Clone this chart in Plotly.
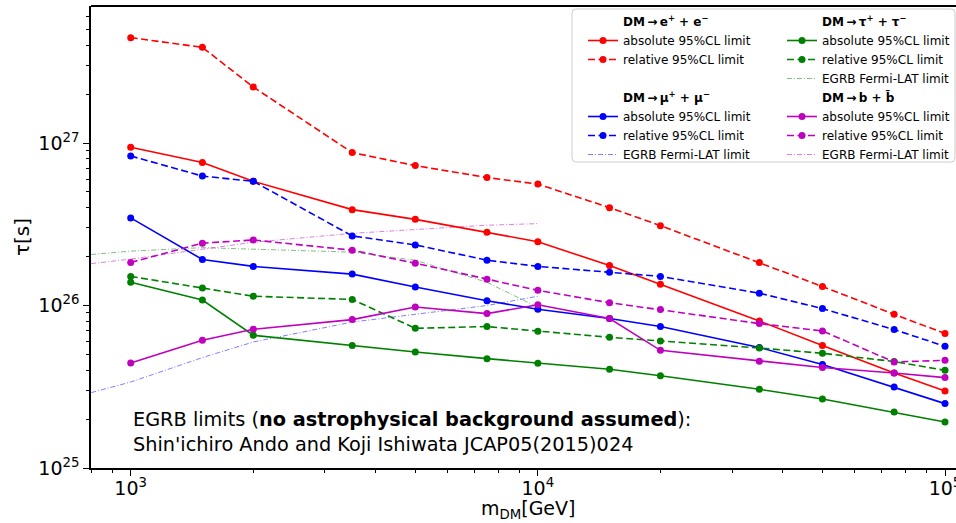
import plotly.graph_objects as go

# Dark-matter mass grid (GeV)
m_dm = [1000, 1500, 2000, 3500, 5000, 7500, 10000, 15000, 20000, 35000, 50000, 75000, 100000]

# Lifetime limits tau [s] per decay channel
ee_abs = [9.41e26, 7.58e26, 5.81e26, 3.89e26, 3.39e26, 2.82e26, 2.47e26, 1.76e26, 1.35e26, 8.03e25, 5.67e25, 3.84e25, 2.98e25]
ee_rel = [4.45e27, 3.88e27, 2.21e27, 8.73e26, 7.26e26, 6.13e26, 5.59e26, 4.00e26, 3.10e26, 1.84e26, 1.31e26, 8.83e25, 6.72e25]
mumu_abs = [3.46e26, 1.92e26, 1.74e26, 1.56e26, 1.30e26, 1.07e26, 9.48e25, 8.31e25, 7.42e25, 5.51e25, 4.33e25, 3.15e25, 2.49e25]
mumu_rel = [8.32e26, 6.26e26, 5.81e26, 2.68e26, 2.36e26, 1.90e26, 1.74e26, 1.60e26, 1.51e26, 1.19e26, 9.57e25, 7.11e25, 5.61e25]
tautau_abs = [1.39e26, 1.08e26, 6.56e25, 5.67e25, 5.17e25, 4.71e25, 4.41e25, 4.05e25, 3.70e25, 3.05e25, 2.66e25, 2.21e25, 1.92e25]
tautau_rel = [1.51e26, 1.28e26, 1.14e26, 1.09e26, 7.24e25, 7.42e25, 6.94e25, 6.37e25, 6.05e25, 5.48e25, 5.08e25, 4.52e25, 3.99e25]
bb_abs = [4.43e25, 6.11e25, 7.14e25, 8.19e25, 9.79e25, 8.92e25, 1.01e26, 8.31e25, 5.30e25, 4.54e25, 4.15e25, 3.84e25, 3.60e25]
bb_rel = [1.84e26, 2.42e26, 2.53e26, 2.19e26, 1.82e26, 1.45e26, 1.24e26, 1.04e26, 9.44e25, 7.74e25, 6.97e25, 4.49e25, 4.60e25]

# EGRB Fermi-LAT limits (Ando & Ishiwata 2015)
egrb_m = [800, 1000, 1500, 2000, 3500, 5000, 7500, 10000]
egrb_mumu = [2.91e25, 3.38e25, 4.78e25, 5.96e25, 7.91e25, 8.83e25, 1.00e26, 1.14e26]
egrb_tautau = [2.06e26, 2.16e26, 2.27e26, 2.22e26, 2.13e26, 1.90e26, 1.39e26, 9.75e25]
egrb_bb = [1.81e26, 1.93e26, 2.22e26, 2.45e26, 2.78e26, 2.94e26, 3.12e26, 3.19e26]

# Axis ticks
x_major = [1e3, 1e4, 1e5]
x_major_text = ["10<sup>3</sup>", "10<sup>4</sup>", "10<sup>5</sup>"]
x_minor = [k * 10.0 ** e for e in (2, 3, 4, 5) for k in range(2, 10)]
y_major = [1e25, 1e26, 1e27]
y_major_text = ["10<sup>25</sup>", "10<sup>26</sup>", "10<sup>27</sup>"]
y_minor = [k * 10.0 ** e for e in (25, 26, 27) for k in range(2, 10)]

FONT = "DejaVu Sans"
RED, BLUE, GREEN, MAGENTA = "#ff0000", "#0000ff", "#008000", "#bf00bf"
EGRB_BLUE, EGRB_GREEN, EGRB_MAGENTA = "rgba(0,0,255,0.5)", "rgba(0,128,0,0.5)", "rgba(191,0,191,0.5)"
DASH = "7px,3.5px"
DASHDOT = "5px,2px,1px,2px"

fig = go.Figure()


def header(name, legend, rank):
    fig.add_trace(go.Scatter(
        x=[None], y=[None], mode="lines", name=name,
        line=dict(color="rgba(0,0,0,0)", width=0),
        legend=legend, legendrank=rank, hoverinfo="skip"))


def limit(x, y, color, dash, name, legend, rank):
    fig.add_trace(go.Scatter(
        x=x, y=y, mode="lines+markers", name=name,
        line=dict(color=color, width=1.6, dash=dash),
        marker=dict(color=color, size=7, symbol="circle"),
        legend=legend, legendrank=rank))


def egrb(x, y, color, legend, rank):
    fig.add_trace(go.Scatter(
        x=x, y=y, mode="lines", name="EGRB Fermi-LAT limit",
        line=dict(color=color, width=1, dash=DASHDOT),
        legend=legend, legendrank=rank))


ARROW = "\u2009→\u2009"

# thin EGRB curves underneath
egrb(egrb_m, egrb_mumu, EGRB_BLUE, "legend", 8)
egrb(egrb_m, egrb_tautau, EGRB_GREEN, "legend2", 4)
egrb(egrb_m, egrb_bb, EGRB_MAGENTA, "legend2", 8)

# left legend column: e+e-, mu+mu-
header(f"<b>DM{ARROW}e<sup>+</sup> + e<sup>−</sup></b>", "legend", 1)
limit(m_dm, ee_abs, RED, "solid", "absolute 95%CL limit", "legend", 2)
limit(m_dm, ee_rel, RED, DASH, "relative 95%CL limit", "legend", 3)
header("\u00a0", "legend", 4)
header(f"<b>DM{ARROW}μ<sup>+</sup> + μ<sup>−</sup></b>", "legend", 5)
limit(m_dm, mumu_abs, BLUE, "solid", "absolute 95%CL limit", "legend", 6)
limit(m_dm, mumu_rel, BLUE, DASH, "relative 95%CL limit", "legend", 7)

# right legend column: tau+tau-, b bbar
header(f"<b>DM{ARROW}τ<sup>+</sup> + τ<sup>−</sup></b>", "legend2", 1)
limit(m_dm, tautau_abs, GREEN, "solid", "absolute 95%CL limit", "legend2", 2)
limit(m_dm, tautau_rel, GREEN, DASH, "relative 95%CL limit", "legend2", 3)
header(f"<b>DM{ARROW}b + b\u0304</b>", "legend2", 5)
limit(m_dm, bb_abs, MAGENTA, "solid", "absolute 95%CL limit", "legend2", 6)
limit(m_dm, bb_rel, MAGENTA, DASH, "relative 95%CL limit", "legend2", 7)

W, H = 956, 523
ML, MR, MT, MB = 91, 0, 6, 55
PW, PH = W - ML - MR, H - MT - MB


def px(x):
    return (x - ML) / PW


def py(y):
    return (H - MB - y) / PH


legend_common = dict(
    font=dict(family=FONT, size=12, color="black"),
    bgcolor="rgba(0,0,0,0)", borderwidth=0,
    xanchor="left", yanchor="top", traceorder="normal",
    itemclick=False, itemdoubleclick=False,
)

# rounded legend frame
x0, x1, y0, y1 = px(572), px(955), py(162), py(9)
rx, ry = 4 / PW, 4 / PH
frame = (f"M{x0 + rx},{y1} L{x1 - rx},{y1} Q{x1},{y1} {x1},{y1 - ry} "
         f"L{x1},{y0 + ry} Q{x1},{y0} {x1 - rx},{y0} L{x0 + rx},{y0} "
         f"Q{x0},{y0} {x0},{y0 + ry} L{x0},{y1 - ry} Q{x0},{y1} {x0 + rx},{y1} Z")

axis_common = dict(
    type="log", showgrid=False, zeroline=False, automargin=False,
    showline=True, linecolor="black", linewidth=1.5,
    ticks="outside", ticklen=6, tickwidth=1.2, tickcolor="black",
    tickfont=dict(family=FONT, size=19, color="black"),
    tickmode="array", ticklabeloverflow="allow",
)

fig.update_layout(
    width=W, height=H,
    margin=dict(l=ML, r=MR, t=MT, b=MB),
    plot_bgcolor="white", paper_bgcolor="white",
    font=dict(family=FONT, color="black"),
    showlegend=True,
    legend=dict(x=px(583), y=py(7), **legend_common),
    legend2=dict(x=px(782), y=py(7), **legend_common),
    xaxis=dict(
        range=[2.9025, 5.027], tickvals=x_major, ticktext=x_major_text,
        ticklabelstandoff=-4,
        minor=dict(tickmode="array", tickvals=x_minor, ticks="outside",
                   ticklen=3.5, tickwidth=1, tickcolor="black"),
        **axis_common),
    yaxis=dict(
        range=[25, 25 + PH / 162.5], tickvals=y_major, ticktext=y_major_text,
        minor=dict(tickmode="array", tickvals=y_minor, ticks="outside",
                   ticklen=3.5, tickwidth=1, tickcolor="black"),
        title=dict(text="τ[s]", font=dict(family=FONT, size=20), standoff=3),
        **axis_common),
    shapes=[
        dict(type="line", xref="paper", yref="paper", x0=0, x1=1, y0=1, y1=1,
             line=dict(color="black", width=2)),
        dict(type="path", xref="paper", yref="paper", path=frame,
             fillcolor="rgba(255,255,255,0.8)", line=dict(color="#cccccc", width=1),
             layer="above"),
    ],
    annotations=[
        dict(xref="x", yref="paper", x=3, y=py(432), xanchor="left", yanchor="middle",
             align="left", showarrow=False,
             font=dict(family=FONT, size=19.3, color="black"),
             text="EGRB limits (<b>no astrophysical background assumed</b>):<br>"
                  "Shin'ichiro Ando and Koji Ishiwata JCAP05(2015)024"),
        # x-axis title
        dict(xref="paper", yref="paper", x=px(528), y=py(509), xanchor="center",
             yanchor="middle", showarrow=False,
             font=dict(family=FONT, size=19, color="black"),
             text="m<sub>DM</sub>[GeV]"),
    ],
)

fig.write_html("out.html")
